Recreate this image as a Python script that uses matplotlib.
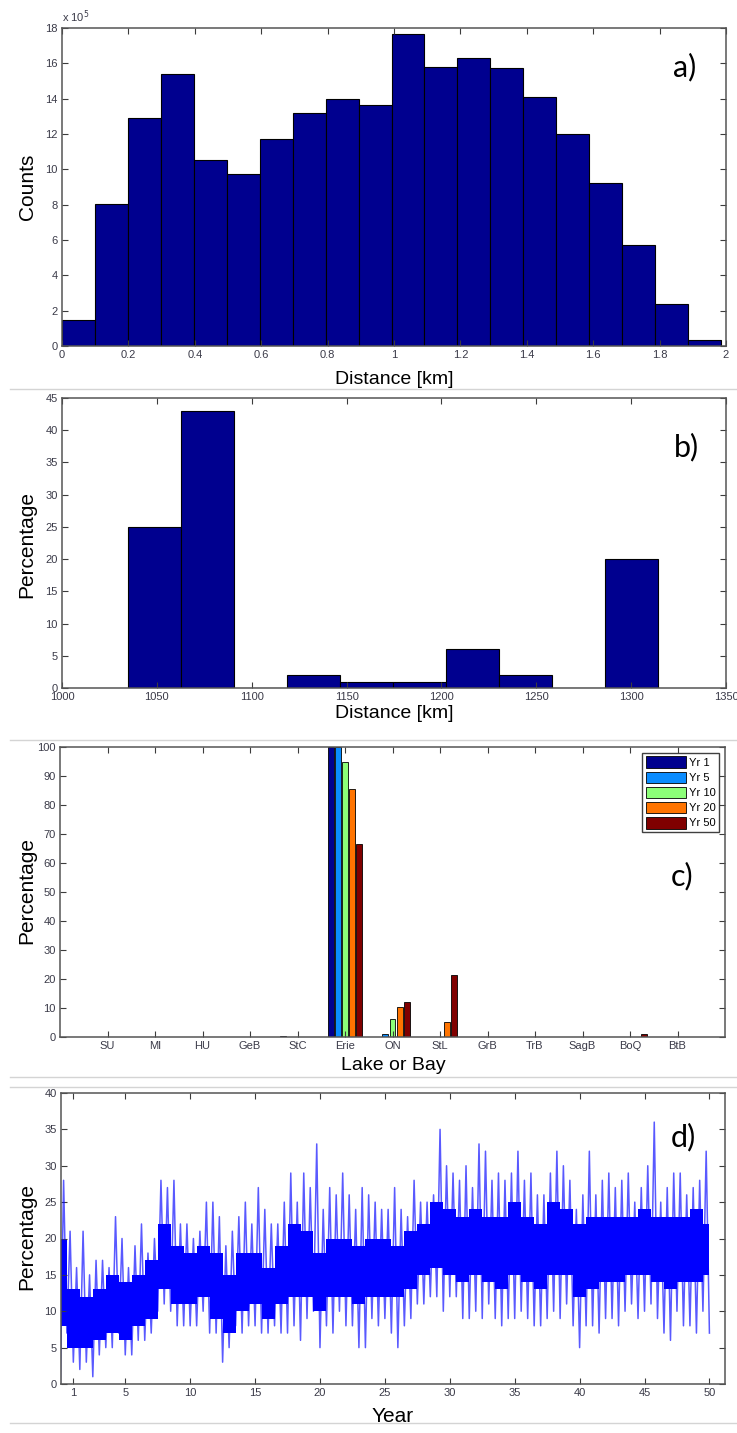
import matplotlib
matplotlib.use("Agg")
import matplotlib.pyplot as plt
from matplotlib.lines import Line2D
import numpy as np

plt.rcParams['font.family'] = ['Liberation Sans', 'DejaVu Sans']

W, H = 737, 1433

# a) distance histogram, counts in units of 1e5
counts_e5 = [1.5, 8.05, 12.9, 15.4, 10.55, 9.75, 11.7, 13.2, 14.0, 13.65,
             17.65, 15.78, 16.29, 15.73, 14.12, 12.02, 9.21, 5.69, 2.38, 0.32]
dist_range = (0.0, 1.985)

# b) distance histogram (km), percentage
far_pct = [25, 43, 0, 2, 1, 1, 6, 2, 0, 20]
far_range = (1034.9, 1313.9)

# c) lake or bay, percentage per year
lakes = ['SU', 'MI', 'HU', 'GeB', 'StC', 'Erie', 'ON', 'StL', 'GrB', 'TrB', 'SagB', 'BoQ', 'BtB']
years = ['Yr 1', 'Yr 5', 'Yr 10', 'Yr 20', 'Yr 50']
yr1 = [0, 0, 0, 0, 0.3, 100, 0, 0, 0, 0, 0, 0, 0]
yr5 = [0, 0, 0, 0, 0, 100, 1.1, 0, 0, 0, 0, 0, 0]
yr10 = [0, 0, 0, 0, 0, 95, 6.2, 0, 0, 0, 0, 0, 0]
yr20 = [0, 0, 0, 0, 0, 85.6, 10.2, 5.2, 0, 0, 0, 0, 0]
yr50 = [0, 0, 0, 0, 0, 66.7, 11.9, 21.4, 0, 0, 0, 1.1, 0]
yr_colors = ['#00008f', '#0a8cff', '#8cff78', '#ff7400', '#800000']

# d) percentage over years
# spikes: troughs at every half year, peaks in between
d_low = [0, 7, 3, 2, 3, 1, 4, 5, 5, 7, 4, 4, 6, 6, 7, 10, 11, 10, 8, 8,
         8, 8, 10, 7, 7, 3, 5, 8, 7, 8, 8, 7, 7, 8, 7, 7, 8, 6, 9, 10,
         5, 8, 7, 10, 8, 8, 5, 5, 9, 8, 9, 7, 5, 8, 9, 11, 11, 12, 12, 10,
         12, 12, 9, 9, 10, 9, 11, 9, 8, 9, 9, 10, 9, 8, 8, 9, 10, 9, 11, 8,
         5, 8, 8, 7, 9, 9, 8, 10, 11, 9, 10, 11, 9, 7, 6, 10, 8, 8, 7, 10, 7]
d_high = [28, 21, 16, 21, 15, 17, 17, 16, 23, 20, 16, 19, 22, 18, 20, 28, 27, 28, 22, 22,
          20, 21, 25, 25, 23, 19, 21, 23, 25, 22, 27, 24, 22, 22, 25, 29, 25, 29, 27, 33,
          24, 27, 26, 29, 26, 24, 27, 26, 25, 24, 24, 27, 24, 23, 28, 25, 25, 26, 35, 30,
          29, 28, 30, 27, 33, 32, 28, 29, 28, 29, 32, 28, 29, 26, 26, 29, 32, 30, 28, 24,
          26, 32, 26, 28, 29, 27, 28, 29, 25, 27, 30, 36, 25, 27, 29, 29, 26, 27, 28, 32]
# dense core of the series, one value per year
d_core_lo = [8, 5, 5, 6, 7, 6, 8, 9, 13, 11, 11, 12, 9, 7, 10, 11, 9, 11, 12, 12,
             10, 12, 12, 11, 12, 12, 12, 13, 15, 16, 15, 14, 15, 14, 13, 15, 14, 13, 15, 15,
             12, 13, 14, 14, 15, 15, 14, 13, 14, 14, 15]
d_core_hi = [20, 13, 12, 13, 15, 14, 15, 17, 22, 19, 18, 19, 18, 15, 18, 18, 16, 19, 22, 21,
             18, 20, 20, 19, 20, 20, 19, 21, 22, 25, 24, 23, 24, 23, 23, 25, 23, 22, 25, 24,
             22, 23, 23, 23, 23, 24, 23, 23, 23, 24, 22]
d_year_ticks = [1, 5, 10, 15, 20, 25, 30, 35, 40, 45, 50]


def px_axes(left, top, right, bottom):
    return fig.add_axes([left / W, 1 - bottom / H, (right - left) / W, (bottom - top) / H])


def matlab_style(ax):
    ax.tick_params(direction='in', top=True, right=True, length=4, width=0.8,
                   labelsize=8, labelcolor='#3a3a48', color='#3c3c3c', pad=3)
    for s in ax.spines.values():
        s.set_color('#555555')
        s.set_linewidth(1.1)


def panel_letter(ax, x, y, txt):
    ax.text(x, y, txt, transform=ax.transAxes, ha='center', va='center',
            fontsize=22, family=['Lato', 'DejaVu Sans'], color='black')


fig = plt.figure(figsize=(W / 100, H / 100), dpi=100)

# ---- a)
ax = px_axes(62, 28, 726, 346)
edges = np.linspace(dist_range[0], dist_range[1], len(counts_e5) + 1)
ax.bar(edges[:-1], counts_e5, width=np.diff(edges), align='edge',
       color='#00008f', edgecolor='black', linewidth=0.8)
ax.set_xlim(0, 2)
ax.set_ylim(0, 18)
ax.set_xticks(np.arange(0, 2.01, 0.2))
ax.set_xticklabels(['0', '0.2', '0.4', '0.6', '0.8', '1', '1.2', '1.4', '1.6', '1.8', '2'])
ax.set_yticks(range(0, 19, 2))
matlab_style(ax)
panel_letter(ax, 0.937, 0.877, 'a)')
fig.text(62 / W, 1 - 17 / H, r'x 10$^5$', fontsize=8, color='#3a3a48', va='center')
fig.text(394 / W, 1 - 380 / H, 'Distance [km]', fontsize=14, ha='center', va='center')
fig.text(27 / W, 1 - 187 / H, 'Counts', fontsize=15, ha='center', va='center', rotation=90)

# ---- b)
ax = px_axes(62, 398, 726, 688)
edges = np.linspace(far_range[0], far_range[1], len(far_pct) + 1)
ax.bar(edges[:-1], far_pct, width=np.diff(edges), align='edge',
       color='#00008f', edgecolor='black', linewidth=0.8)
ax.set_xlim(1000, 1350)
ax.set_ylim(0, 45)
ax.set_xticks(range(1000, 1351, 50))
ax.set_yticks(range(0, 46, 5))
matlab_style(ax)
panel_letter(ax, 0.94, 0.831, 'b)')
fig.text(394 / W, 1 - 713 / H, 'Distance [km]', fontsize=14, ha='center', va='center')
fig.text(27 / W, 1 - 545 / H, 'Percentage', fontsize=15, ha='center', va='center', rotation=90)

# ---- c)
ax = px_axes(60, 747, 725, 1037)
xc = np.arange(1, len(lakes) + 1)
for i, (vals, lab, col) in enumerate(zip([yr1, yr5, yr10, yr20, yr50], years, yr_colors)):
    ax.bar(xc + (i - 2) * 0.152, vals, width=0.125, color=col, edgecolor='black',
           linewidth=0.6, label=lab)
ax.set_xlim(0, 14)
ax.set_ylim(0, 100)
ax.set_xticks(xc)
ax.set_xticklabels(lakes)
ax.set_yticks(range(0, 101, 10))
matlab_style(ax)
leg = ax.legend(loc='upper right', bbox_to_anchor=(0.991, 0.979), borderaxespad=0,
                fontsize=8, handlelength=3.6, handleheight=1.25, labelspacing=0.3,
                handletextpad=0.3, borderpad=0.3, fancybox=False, framealpha=1)
leg.get_frame().set_edgecolor('#404040')
leg.get_frame().set_linewidth(1.0)
panel_letter(ax, 0.935, 0.555, 'c)')
fig.text(393 / W, 1 - 1066 / H, 'Lake or Bay', fontsize=14, ha='center', va='center')
fig.text(27 / W, 1 - 890 / H, 'Percentage', fontsize=15, ha='center', va='center', rotation=90)

# ---- d)
ax = px_axes(61, 1093, 725, 1384)
t_low = np.arange(len(d_low)) * 0.5
t_high = t_low[:-1] + 0.25
tt = np.empty(len(d_low) + len(d_high))
yy = np.empty_like(tt)
tt[0::2], yy[0::2] = t_low, d_low
tt[1::2], yy[1::2] = t_high, d_high
ax.plot(tt, yy, color='#0000ff', linewidth=1.1, alpha=0.65)
t_core = np.arange(len(d_core_lo))
ax.fill_between(t_core, d_core_lo, d_core_hi, step='mid', color='#0000ff', linewidth=0)
ax.set_xlim(0.05, 51.2)
ax.set_ylim(0, 40)
ax.set_xticks(d_year_ticks)
ax.set_yticks(range(0, 41, 5))
matlab_style(ax)
panel_letter(ax, 0.937, 0.849, 'd)')
fig.text(393 / W, 1 - 1417 / H, 'Year', fontsize=15, ha='center', va='center')
fig.text(27 / W, 1 - 1237 / H, 'Percentage', fontsize=15, ha='center', va='center', rotation=90)

# separators between the stacked figures
for y in [389, 740, 1077, 1087, 1423]:
    fig.add_artist(Line2D([10 / W, 1], [1 - y / H, 1 - y / H], transform=fig.transFigure,
                          color='#d4d4d4', linewidth=1))

fig.savefig('out.png', dpi=100)
